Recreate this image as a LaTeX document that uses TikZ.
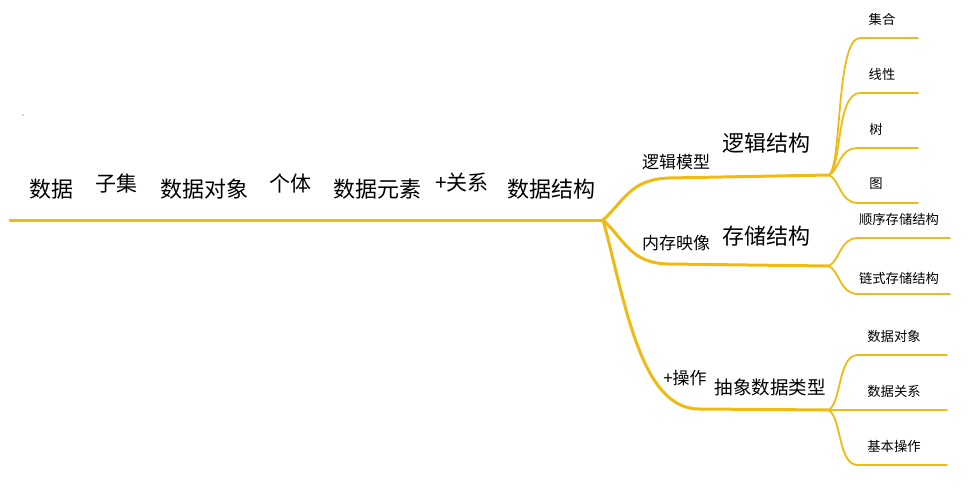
\documentclass[tikz,border=0pt]{standalone}
\usepackage{fontspec}
\setmainfont{Noto Sans CJK SC}
\definecolor{br}{RGB}{240,186,20}
\begin{document}
\begin{tikzpicture}[x=1pt,y=-1pt,
  mainline/.style={draw=br,line width=3pt,line cap=round},
  subline/.style={draw=br,line width=1.8pt,line cap=round},
  bigtxt/.style={font=\fontsize{22}{22}\selectfont,inner sep=0pt},
  thintxt/.style={font=\fontsize{21}{21}\selectfont,inner sep=0pt},
  midtxt/.style={font=\fontsize{17}{17}\selectfont,inner sep=0pt},
  lrgtxt/.style={font=\fontsize{22}{22}\selectfont,inner sep=0pt},
  smltxt/.style={font=\fontsize{13.3}{13.3}\selectfont,inner sep=0pt}]
\useasboundingbox (0,0) rectangle (970,491);
\fill[black!70] (23,115) circle (0.6);
% coordinates
\coordinate (S) at (10,220);
\coordinate (J) at (603,220);
\coordinate (P1) at (829,175);
\coordinate (P2) at (829,266);
\coordinate (P3) at (829,410);
\coordinate (a1) at (918,38);
\coordinate (a2) at (918,93);
\coordinate (a3) at (918,148);
\coordinate (a4) at (918,203);
\coordinate (b1) at (950,238);
\coordinate (b2) at (950,294);
\coordinate (c1) at (947,355);
\coordinate (c2) at (947,410);
\coordinate (c3) at (947,465);
% main chain text
\node[bigtxt] (t1) at (52,189) {数据};
\node[thintxt] (t2) at (116,183) {子集};
\node[bigtxt] (t3) at (204,189) {数据对象};
\node[thintxt] (t4) at (290,183) {个体};
\node[bigtxt] (t5) at (377,189) {数据元素};
\node[thintxt] (t6) at (462,183) {+关系};
\node[bigtxt] (t7) at (551,189) {数据结构};
% second level
\node[midtxt] (m1) at (676,162) {逻辑模型};
\node[lrgtxt] (n1) at (766,143) {逻辑结构};
\node[midtxt] (m2) at (676,243) {内存映像};
\node[lrgtxt] (n2) at (766,236) {存储结构};
\node[midtxt] (m3) at (685,378) {+操作};
\node[font=\fontsize{18.5}{18.5}\selectfont,inner sep=0pt] (n3) at (770,387) {抽象数据类型};
% third level
\node[smltxt] (s1) at (882,19) {集合};
\node[smltxt] (s2) at (882,74) {线性};
\node[smltxt] (s3) at (876,129) {树};
\node[smltxt] (s4) at (876,184) {图};
\node[smltxt] (s5) at (899,219) {顺序存储结构};
\node[smltxt] (s6) at (899,278) {链式存储结构};
\node[smltxt] (s7) at (894,336) {数据对象};
\node[smltxt] (s8) at (894,391) {数据关系};
\node[smltxt] (s9) at (894,446) {基本操作};
% main lines
\draw[mainline] (S) -- (J);
\draw[mainline] (J) .. controls (625,200) and (630,180) .. (668,178) -- (P1);
\draw[mainline] (J) .. controls (625,240) and (630,263) .. (668,264) -- (P2);
\draw[mainline] (J) .. controls (625,300) and (640,410) .. (700,409) -- (P3);
% sub branches
\draw[subline] (P1) .. controls (842,165) and (836,38) .. (860,38) -- (a1);
\draw[subline] (P1) .. controls (842,168) and (836,93) .. (860,93) -- (a2);
\draw[subline] (P1) .. controls (840,170) and (838,148) .. (858,148) -- (a3);
\draw[subline] (P1) .. controls (840,180) and (840,203) .. (858,203) -- (a4);
\draw[subline] (P2) .. controls (840,260) and (840,238) .. (858,238) -- (b1);
\draw[subline] (P2) .. controls (840,272) and (840,294) .. (858,294) -- (b2);
\draw[subline] (P3) .. controls (842,400) and (838,355) .. (858,355) -- (c1);
\draw[subline] (P3) -- (c2);
\draw[subline] (P3) .. controls (842,420) and (838,465) .. (858,465) -- (c3);
\end{tikzpicture}
\end{document}
